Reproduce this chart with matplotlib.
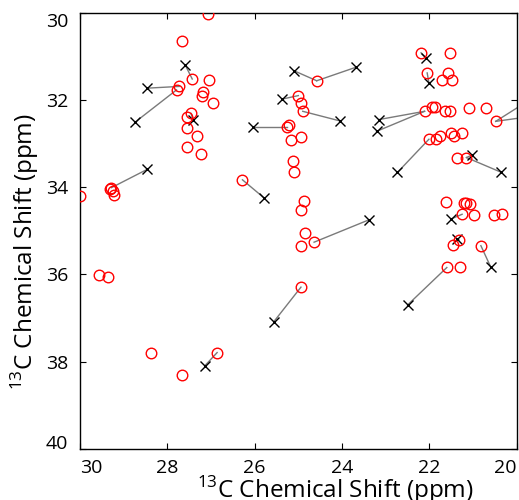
import matplotlib
matplotlib.use("Agg")
import matplotlib.pyplot as plt

plt.rcParams['font.family'] = ['Open Sans', 'DejaVu Sans']
plt.rcParams['mathtext.fontset'] = 'custom'
plt.rcParams['mathtext.rm'] = 'Open Sans'

# Red circles (observed shifts)
circ_x = [27.07, 27.66, 27.43, 27.05, 27.79, 27.73, 27.18, 27.20, 26.95, 27.46, 27.55, 27.54, 27.32, 27.54, 27.22,
          29.28, 29.31, 29.24, 29.21, 30.00, 26.28,
          25.25, 25.21, 24.58, 25.00, 24.95, 24.90, 25.17, 24.93, 25.12, 25.10, 24.87, 24.94, 24.85, 24.94, 24.64, 24.94,
          29.56, 29.36, 28.38, 27.67, 26.86,
          22.19, 21.53, 22.05, 21.57, 21.72, 21.48,
          22.11, 21.94, 21.86, 21.65, 21.52, 21.09, 20.71, 20.48,
          21.51, 21.44, 21.25, 22.01, 21.85, 21.76,
          21.36, 21.15,
          21.61, 21.21, 21.15, 21.06, 21.25, 20.98, 20.52, 20.34,
          21.32, 21.46, 20.82, 21.60, 21.30]
circ_y = [30.02, 30.64, 31.52, 31.54, 31.77, 31.69, 31.82, 31.91, 32.07, 32.31, 32.40, 32.65, 32.82, 33.07, 33.23,
          34.01, 34.04, 34.08, 34.18, 34.21, 33.83,
          32.61, 32.57, 31.56, 31.90, 32.07, 32.26, 32.91, 32.85, 33.41, 33.64, 34.32, 34.52, 35.05, 35.34, 35.26, 36.29,
          36.01, 36.06, 37.79, 38.30, 37.79,
          30.92, 30.92, 31.38, 31.38, 31.54, 31.54,
          32.26, 32.16, 32.16, 32.26, 32.26, 32.19, 32.19, 32.49,
          32.75, 32.82, 32.76, 32.90, 32.90, 32.82,
          33.32, 33.32,
          34.35, 34.36, 34.36, 34.38, 34.62, 34.64, 34.64, 34.62,
          35.21, 35.32, 35.34, 35.84, 35.84]

# Black crosses (predicted shifts)
cross_x = [27.59, 28.47, 28.74, 27.41, 28.46, 25.78, 26.03, 25.10, 23.68, 25.37, 24.05, 23.39, 25.56, 27.14,
           22.07, 22.01, 23.16, 23.21, 22.73, 21.02, 20.35, 21.51, 21.37, 20.59, 22.50, 19.50, 19.40]
cross_y = [31.20, 31.73, 32.51, 32.45, 33.59, 34.25, 32.61, 31.33, 31.25, 31.98, 32.48, 34.75, 37.08, 38.09,
           31.04, 31.61, 32.45, 32.72, 33.66, 33.26, 33.66, 34.73, 35.19, 35.84, 36.70, 31.87, 32.34]

# Observed partner of each cross
match_x = [27.43, 27.73, 27.79, 27.46, 29.28, 26.28, 25.25, 24.58, 24.58, 25.00, 24.90, 24.64, 24.94, 26.86,
           22.19, 22.05, 22.11, 22.11, 22.01, 21.15, 21.15, 21.25, 21.32, 20.82, 21.60, 20.48, 20.48]
match_y = [31.52, 31.69, 31.77, 32.31, 34.01, 33.83, 32.61, 31.56, 31.56, 31.90, 32.26, 35.26, 36.29, 37.79,
           30.92, 31.38, 32.26, 32.26, 32.90, 33.32, 33.32, 34.62, 35.21, 35.34, 35.84, 32.49, 32.49]

x_ticks = [30, 28, 26, 24, 22, 20]
y_ticks = [30, 32, 34, 36, 38, 40]
axis_label = r'$^{13}$C Chemical Shift (ppm)'

fig = plt.figure(figsize=(5.19, 5.00), dpi=100)
ax = fig.add_axes([80/519, 1-449/500, 436.7/519, 436.3/500])

for cx, cy, mx, my in zip(cross_x, cross_y, match_x, match_y):
    ax.plot([cx, mx], [cy, my], color='#7a7a7a', lw=1.0, zorder=1)

ax.plot(circ_x, circ_y, linestyle='none', marker='o', markersize=7.6, markerfacecolor='none',
        markeredgecolor='#ff0000', markeredgewidth=1.0, zorder=3)
ax.plot(cross_x, cross_y, linestyle='none', marker='x', markersize=7.0, color='black',
        markeredgewidth=1.0, zorder=2)

ax.set_xlim(30, 20)
ax.set_ylim(40, 30)
ax.set_xticks(x_ticks)
ax.set_yticks(y_ticks)
ax.tick_params(direction='in', length=4, width=0.8, labelsize=14, top=True, right=True,
               colors='black')
ax.tick_params(axis='x', pad=7.0)
ax.tick_params(axis='y', pad=8.6)
for s in ax.spines.values():
    s.set_linewidth(1.0)

xl = ax.get_xticklabels()
xl[0].set_horizontalalignment('left')
xl[-1].set_horizontalalignment('right')
yl = ax.get_yticklabels()
yl[0].set_verticalalignment('top')
yl[-1].set_verticalalignment('baseline')

ax.set_xlabel(axis_label, fontsize=17.5, va='baseline')
ax.set_ylabel(axis_label, fontsize=17.5, va='baseline')
ax.xaxis.set_label_coords(0.584, -0.113)
ax.yaxis.set_label_coords(-0.108, 0.452)

fig.savefig('out.png', dpi=100)
